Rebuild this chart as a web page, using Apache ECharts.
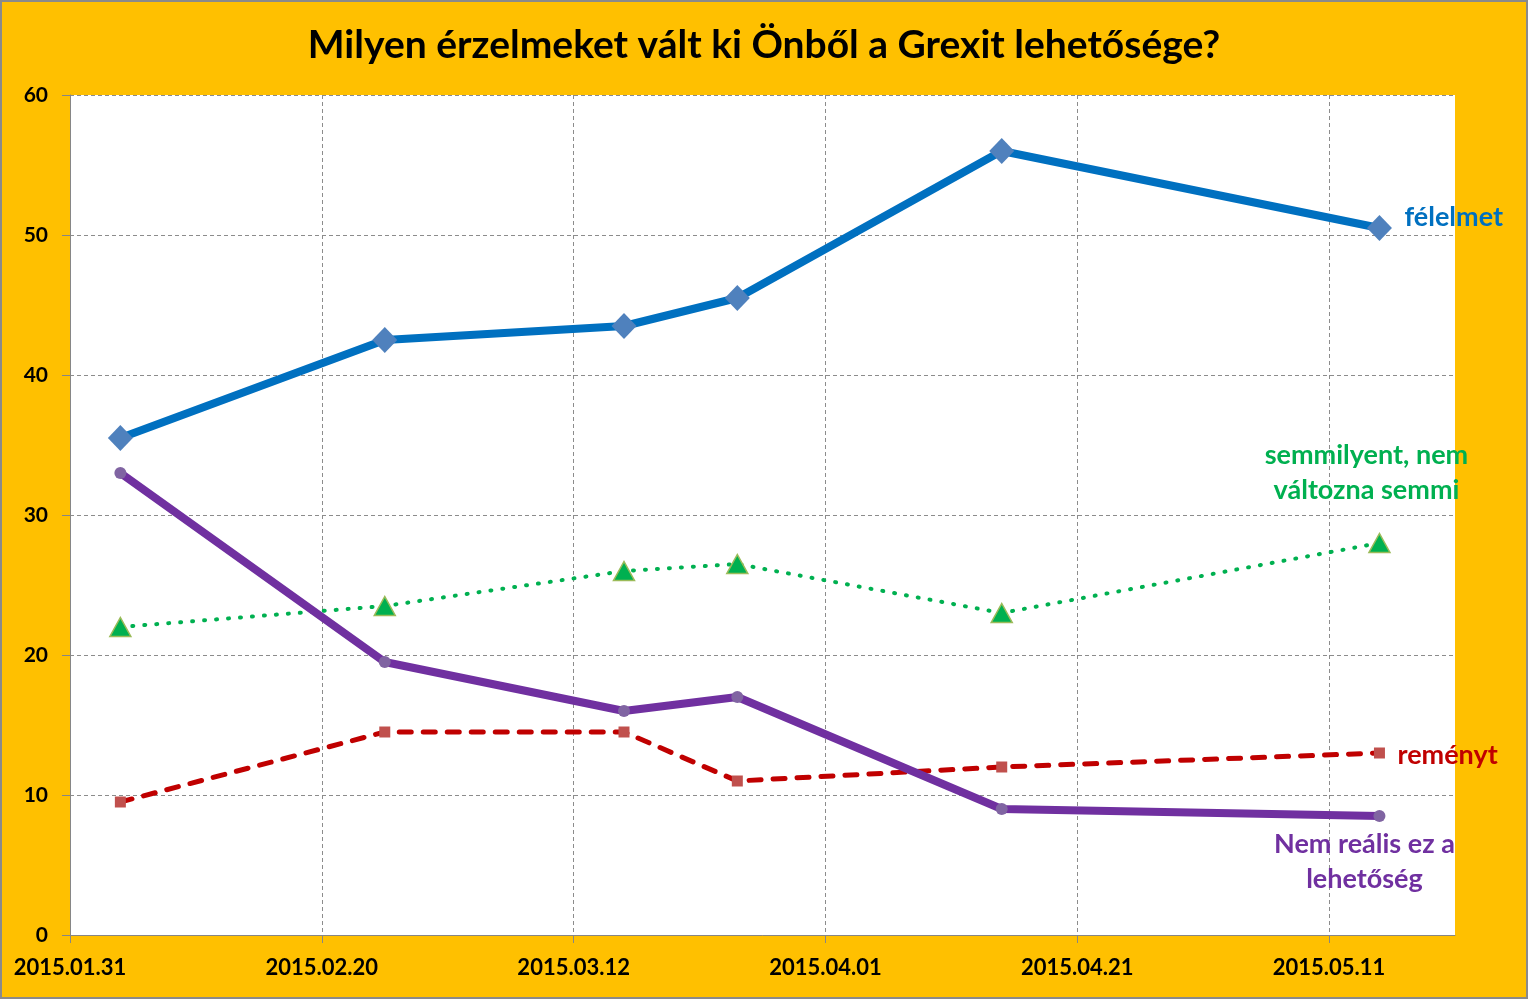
<!DOCTYPE html>
<html>
<head>
<meta charset="utf-8">
<script src="https://cdn.jsdelivr.net/npm/echarts@6/dist/echarts.min.js"></script>
<style>
html,body{margin:0;padding:0;background:#FFC000;}
#chart{width:1528px;height:999px;box-sizing:border-box;border:2px solid #8a8a8a;background:#FFC000;}
</style>
</head>
<body>
<div id="chart"></div>
<script>
// ---- data ----
const titleText = 'Milyen érzelmeket vált ki Önből a Grexit lehetősége?';
const surveyDates = ['2015-02-04', '2015-02-25', '2015-03-16', '2015-03-25', '2015-04-15', '2015-05-15'];
const felelmet = [35.5, 42.5, 43.5, 45.5, 56, 50.5];
const semmilyent = [22, 23.5, 26, 26.5, 23, 28];
const remenyt = [9.5, 14.5, 14.5, 11, 12, 13];
const nemRealis = [33, 19.5, 16, 17, 9, 8.5];
const seriesNames = ['félelmet', 'semmilyent, nem\nváltozna semmi', 'reményt', 'Nem reális ez a\nlehetőség'];
const axisStartDate = '2015-01-31';
const axisSpanDays = 110;
const tickStepDays = 20;
const yTicks = [0, 10, 20, 30, 40, 50, 60];

// ---- helpers ----
const DAY = 86400000;
function toUTC(s){ const p = s.split('-').map(Number); return Date.UTC(p[0], p[1]-1, p[2]); }
const t0 = toUTC(axisStartDate);
const dayOffsets = surveyDates.map(d => (toUTC(d) - t0) / DAY);
function fmtDay(v){
  const d = new Date(t0 + v * DAY);
  const mm = String(d.getUTCMonth()+1).padStart(2,'0');
  const dd = String(d.getUTCDate()).padStart(2,'0');
  return d.getUTCFullYear() + '.' + mm + '.' + dd;
}
function buildData(vals, lastLabel){
  return vals.map((v, i) => {
    const item = { value: [dayOffsets[i], v] };
    if (i === vals.length - 1) item.label = Object.assign({ show: true }, lastLabel);
    return item;
  });
}
const FONT = 'Lato';
const labelBase = { position: 'inside', fontFamily: FONT, fontWeight: 'bold', fontSize: 27, lineHeight: 35 };

const chart = echarts.init(document.getElementById('chart'));
chart.setOption({
  backgroundColor: '#FFC000',
  animation: false,
  title: {
    text: titleText, left: 'center', top: 19,
    textStyle: { fontFamily: FONT, fontWeight: 'bold', fontSize: 39, color: '#000' }
  },
  grid: { left: 68, right: 71, top: 93, bottom: 62, show: true, backgroundColor: '#fff', borderWidth: 0 },
  xAxis: {
    type: 'value', min: 0, max: axisSpanDays, interval: tickStepDays,
    axisLine: { show: true, lineStyle: { color: '#868686', width: 1 } },
    axisTick: { show: true, length: 8, lineStyle: { color: '#868686' } },
    axisLabel: { formatter: fmtDay, showMaxLabel: false, margin: 22, fontFamily: FONT, fontWeight: 'bold', fontSize: 22, color: '#000' },
    splitLine: { show: true, showMaxLine: false, showMinLine: false, lineStyle: { color: '#8c8c8c', type: [4, 3], width: 1 } }
  },
  yAxis: {
    type: 'value', min: yTicks[0], max: yTicks[yTicks.length-1], interval: yTicks[1]-yTicks[0],
    axisLine: { show: true, lineStyle: { color: '#868686', width: 1 } },
    axisTick: { show: true, length: 8, lineStyle: { color: '#868686' } },
    axisLabel: { margin: 22, fontFamily: FONT, fontWeight: 'bold', fontSize: 21, color: '#000' },
    splitLine: { show: true, showMinLine: false, lineStyle: { color: '#8c8c8c', type: [4, 3], width: 1 } }
  },
  series: [
    {
      name: seriesNames[1], type: 'line', z: 3,
      data: buildData(semmilyent, Object.assign({}, labelBase, { formatter: seriesNames[1], color: '#00B050', align: 'center', offset: [-13, -70] })),
      lineStyle: { color: '#00B050', width: 4, type: [1, 11], cap: 'round' },
      symbol: 'triangle', symbolSize: [21, 19],
      itemStyle: { color: '#00B050', borderColor: '#9BBB59', borderWidth: 1.5 }
    },
    {
      name: seriesNames[2], type: 'line', z: 2,
      data: buildData(remenyt, Object.assign({}, labelBase, { formatter: seriesNames[2], color: '#C00000', align: 'left', offset: [18, 2] })),
      lineStyle: { color: '#C00000', width: 5, type: [12, 12], cap: 'round' },
      symbol: 'rect', symbolSize: 11,
      itemStyle: { color: '#C0504D', borderWidth: 0 }
    },
    {
      name: seriesNames[3], type: 'line', z: 4,
      data: buildData(nemRealis, Object.assign({}, labelBase, { formatter: seriesNames[3], color: '#7030A0', align: 'center', offset: [-15, 46] })),
      lineStyle: { color: '#7030A0', width: 8 },
      symbol: 'circle', symbolSize: 12,
      itemStyle: { color: '#8064A2', borderWidth: 0 }
    },
    {
      name: seriesNames[0], type: 'line', z: 5,
      data: buildData(felelmet, Object.assign({}, labelBase, { formatter: seriesNames[0], color: '#0070C0', align: 'left', offset: [25, -11] })),
      lineStyle: { color: '#0070C0', width: 8 },
      symbol: 'diamond', symbolSize: [25, 26],
      itemStyle: { color: '#4F81BD', borderWidth: 0 }
    }
  ]
});
</script>
</body>
</html>
